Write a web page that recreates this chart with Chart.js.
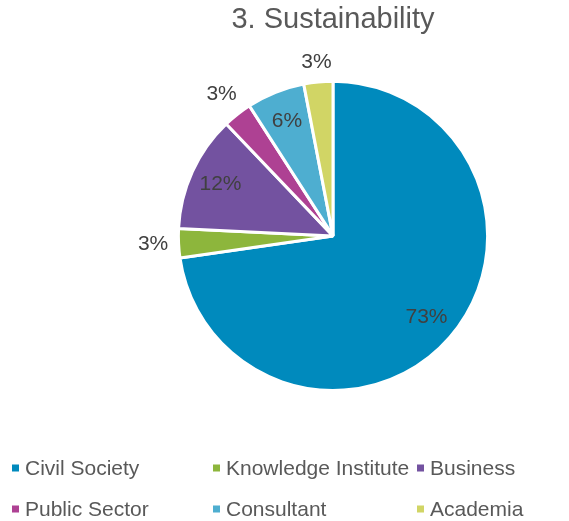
<!DOCTYPE html>
<html>
<head>
<meta charset="utf-8">
<script src="https://cdn.jsdelivr.net/npm/chart.js@4/dist/chart.umd.min.js"></script>
<style>
  html, body { margin: 0; padding: 0; background: #fff; }
  #wrap { width: 569px; height: 521px; }
</style>
</head>
<body>
<div id="wrap"><canvas id="chart" width="569" height="521"></canvas></div>
<script>
const categories = ["Civil Society", "Knowledge Institute", "Business", "Public Sector", "Consultant", "Academia"];
const counts = [24, 1, 4, 1, 2, 1];
const percentLabels = ["73%", "3%", "12%", "3%", "6%", "3%"];
const insideLabel = [true, false, true, false, true, false];
const colors = ["#008abd", "#8db63c", "#7352a0", "#ae4193", "#4eaed0", "#d1d565"];

// slice percentage labels, inside or just outside the pie
const sliceLabels = {
  id: "sliceLabels",
  afterDatasetsDraw(chart) {
    const ctx = chart.ctx;
    const arcs = chart.getDatasetMeta(0).data;
    ctx.save();
    ctx.font = "21px 'Liberation Sans', Arial, sans-serif";
    ctx.fillStyle = "#404040";
    ctx.textAlign = "center";
    ctx.textBaseline = "middle";
    arcs.forEach((arc, i) => {
      const p = arc.getProps(["x", "y", "startAngle", "endAngle", "outerRadius"], true);
      const mid = (p.startAngle + p.endAngle) / 2;
      const c = Math.cos(mid), s = Math.sin(mid);
      let r;
      if (insideLabel[i]) {
        r = p.outerRadius * 0.8;
      } else {
        const w = ctx.measureText(percentLabels[i]).width;
        r = p.outerRadius + 10 + Math.abs(c) * w / 2 + Math.abs(s) * 8;
      }
      ctx.fillText(percentLabels[i], p.x + c * r, p.y + s * r);
    });
    ctx.restore();
  }
};

// legend in a 3-column grid under the pie
const gridLegend = {
  id: "gridLegend",
  afterDraw(chart) {
    const ctx = chart.ctx;
    const colX = [12, 213, 417];
    const rowY = [468, 509];
    ctx.save();
    ctx.font = "21px 'Liberation Sans', Arial, sans-serif";
    ctx.textBaseline = "middle";
    ctx.textAlign = "left";
    categories.forEach((name, i) => {
      const x = colX[i % 3];
      const y = rowY[Math.floor(i / 3)];
      ctx.fillStyle = colors[i];
      ctx.fillRect(x, y - 3.5, 7, 7);
      ctx.fillStyle = "#595959";
      ctx.fillText(name, x + 13, y + 1);
    });
    ctx.restore();
  }
};

new Chart(document.getElementById("chart").getContext("2d"), {
  type: "pie",
  data: {
    labels: categories,
    datasets: [{
      data: counts,
      backgroundColor: colors,
      borderColor: "#ffffff",
      borderWidth: 3
    }]
  },
  options: {
    responsive: false,
    animation: false,
    layout: { padding: { left: 97, right: 0, top: 0, bottom: 129 } },
    plugins: {
      title: {
        display: true,
        text: "3. Sustainability",
        color: "#595959",
        font: { family: "'Liberation Sans', Arial, sans-serif", size: 29, weight: "normal" },
        padding: { top: 3, bottom: 42 }
      },
      legend: { display: false },
      tooltip: { enabled: false }
    }
  },
  plugins: [sliceLabels, gridLegend]
});
</script>
</body>
</html>
